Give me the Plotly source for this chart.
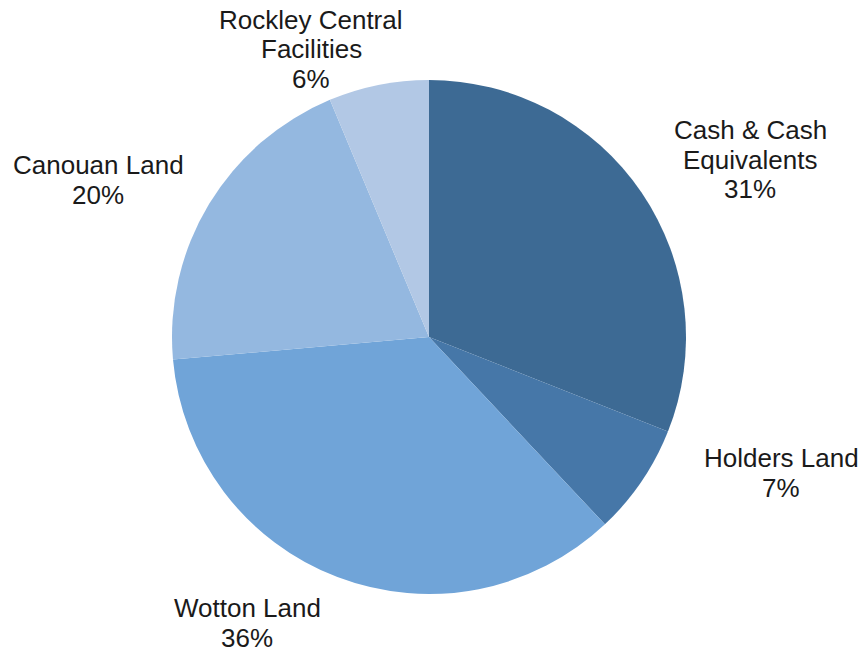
import plotly.graph_objects as go

labels = ["Cash & Cash<br>Equivalents", "Holders Land", "Wotton Land", "Canouan Land", "Rockley Central<br>Facilities"]
values = [31.0, 7.0, 35.6, 20.1, 6.3]
colors = ["#3d6a94", "#4677a8", "#70a4d8", "#94b8e0", "#b2c8e5"]

# label positions: centre x and centre y of first text line (pixels), plus line spacing
label_pos = [(750, 129), (781, 457), (247, 607), (98, 164), (311, 19)]
line_step = 29.5

W, H = 865, 655
cx, cy, r = 429, 337, 257

fig = go.Figure(go.Pie(
    labels=labels,
    values=values,
    marker=dict(colors=colors, line=dict(width=0)),
    sort=False,
    direction="clockwise",
    rotation=0,
    textinfo="none",
    hoverinfo="label+percent",
    showlegend=False,
    domain=dict(x=[(cx - r) / W, (cx + r) / W], y=[(H - cy - r) / H, (H - cy + r) / H]),
))

total = sum(values)
annotations = []
for lab, v, (px, py) in zip(labels, values, label_pos):
    lines = lab.split("<br>") + [f"{round(100 * v / total)}%"]
    for i, line in enumerate(lines):
        yy = py + i * line_step + 1
        annotations.append(dict(
            x=px / W, y=1 - yy / H, xref="paper", yref="paper",
            text=line,
            showarrow=False, xanchor="center", yanchor="middle", align="center",
            font=dict(family="Liberation Sans, Arial, sans-serif", size=26, color="#1a1a1a"),
        ))

fig.update_layout(
    width=W, height=H,
    margin=dict(l=0, r=0, t=0, b=0),
    paper_bgcolor="white",
    plot_bgcolor="white",
    annotations=annotations,
)

fig.write_html(
    "out.html",
    config={"displayModeBar": False},
    post_script="document.body.style.margin='0';document.body.style.overflow='hidden';",
)
